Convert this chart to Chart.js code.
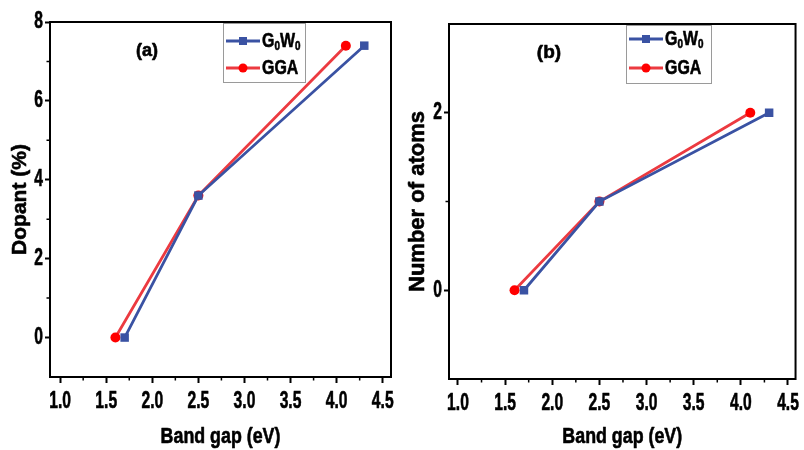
<!DOCTYPE html>
<html><head><meta charset="utf-8">
<script src="https://cdn.jsdelivr.net/npm/chart.js@4"></script>
<style>
html,body{margin:0;padding:0;background:#fff;}
#wrap{position:relative;width:804px;height:450px;overflow:hidden;background:#fff;}
.p{position:absolute;top:0;height:450px;}
</style></head><body>
<div id="wrap">
<div class="p" style="left:0;width:400px"><canvas id="ca" width="400" height="450"></canvas></div>
<div class="p" style="left:400px;width:404px"><canvas id="cb" width="404" height="450"></canvas></div>
</div>
<script>
// ---- data ----
const seriesNames = ['G\u2080W\u2080', 'GGA'];
const gapG0W0 = [1.7, 2.5, 4.3];
const gapGGA = [1.6, 2.5, 4.1];
const dopantG0W0 = [0, 3.6, 7.4];
const dopantGGA = [0, 3.6, 7.4];
const atomsG0W0 = [0, 1, 2];
const atomsGGA = [0, 1, 2];
const xTicks = [1.0, 1.5, 2.0, 2.5, 3.0, 3.5, 4.0, 4.5];
const xMinor = [1.25, 1.75, 2.25, 2.75, 3.25, 3.75, 4.25];
const yTicksA = [0, 2, 4, 6, 8];
const yMinorA = [1, 3, 5, 7];
const yTicksB = [0, 2];
const yMinorB = [1];

const BLUE = '#3a52a3';
const RED_LINE = '#ec3a40';
const RED_PT = '#ff0000';
// family token "Nx<percent>" = horizontally condensed, slightly heavier Liberation Sans
const TICKF = "Nx68, 'Liberation Sans', Arial, sans-serif";
const TITLEF = "Nx81, 'Liberation Sans', Arial, sans-serif";
const LEGF = "Nx76, 'Liberation Sans', Arial, sans-serif";
const WIDE = "Nx100, 'Liberation Sans', Arial, sans-serif";

(function () {
  const P = CanvasRenderingContext2D.prototype;
  const of = P.fillText, om = P.measureText;
  function factor(ctx) { const m = /Nx(\d+)/.exec(ctx.font); return m ? (+m[1]) / 100 : 0; }
  P.fillText = function (t, x, y, mw) {
    const f = factor(this);
    if (!f) return of.apply(this, arguments);
    this.save(); this.translate(x, y); this.scale(f, 1);
    of.call(this, t, 0, 0);
    this.strokeStyle = this.fillStyle; this.lineWidth = 0.6; this.lineJoin = 'round';
    this.strokeText(t, 0, 0);
    this.restore();
  };
  P.measureText = function (t) {
    const m = om.call(this, t); const f = factor(this);
    if (!f || f === 1) return m;
    return {width: m.width * f, actualBoundingBoxAscent: m.actualBoundingBoxAscent,
            actualBoundingBoxDescent: m.actualBoundingBoxDescent,
            actualBoundingBoxLeft: m.actualBoundingBoxLeft * f, actualBoundingBoxRight: m.actualBoundingBoxRight * f};
  };
})();

function pts(xs, ys) { return xs.map((x, i) => ({x: x, y: ys[i]})); }

function drawRichText(ctx, text, x, y, size) {
  let cx = x;
  for (const ch of text) {
    if (ch === '\u2080') {
      ctx.font = 'bold ' + Math.round(size * 0.62) + 'px ' + LEGF;
      ctx.fillText('0', cx, y + size * 0.28);
      cx += ctx.measureText('0').width;
    } else {
      ctx.font = 'bold ' + size + 'px ' + LEGF;
      ctx.fillText(ch, cx, y);
      cx += ctx.measureText(ch).width;
    }
  }
}

const deco = {
  id: 'deco',
  afterDraw(chart, args, o) {
    const ctx = chart.ctx, a = chart.chartArea;
    const xs = chart.scales.x, ys = chart.scales.y;
    ctx.save();
    ctx.strokeStyle = '#000'; ctx.lineWidth = 2;
    ctx.strokeRect(a.left, a.top, a.right - a.left, a.bottom - a.top);
    ctx.lineWidth = 1.5;
    ctx.beginPath();
    o.xMinor.forEach(v => { const p = xs.getPixelForValue(v); ctx.moveTo(p, a.bottom); ctx.lineTo(p, a.bottom + 3.5); });
    o.yMinor.forEach(v => { const p = ys.getPixelForValue(v); ctx.moveTo(a.left, p); ctx.lineTo(a.left - 3.5, p); });
    ctx.stroke();
    ctx.fillStyle = '#000';
    ctx.font = 'bold ' + o.labelSize + 'px ' + WIDE;
    ctx.textAlign = 'center'; ctx.textBaseline = 'middle';
    ctx.fillText(o.label, o.labelX, o.labelY);
    const L = o.legend;
    ctx.strokeStyle = '#9a9a9a'; ctx.lineWidth = 1;
    ctx.strokeRect(L.x + 0.5, L.y + 0.5, L.w, L.h);
    ctx.textAlign = 'left';
    chart.data.datasets.forEach((ds, i) => {
      const yy = L.y + L.rows[i];
      ctx.strokeStyle = ds.borderColor; ctx.lineWidth = 2.8;
      ctx.beginPath(); ctx.moveTo(L.x + 3, yy); ctx.lineTo(L.x + 37, yy); ctx.stroke();
      ctx.fillStyle = ds.pointBackgroundColor;
      const mx = L.x + 20;
      if (ds.pointStyle === 'rect') { ctx.fillRect(mx - 4, yy - 4, 8, 8); }
      else { ctx.beginPath(); ctx.arc(mx, yy, 4.5, 0, Math.PI * 2); ctx.fill(); }
      ctx.fillStyle = '#000'; ctx.textBaseline = 'middle';
      drawRichText(ctx, ds.label, L.x + 39, yy, 21);
    });
    ctx.restore();
  }
};

function makeChart(id, yData1, yData2, yMin, yMax, yTicks, yMinor, yTitle, yTitleSize, geom) {
  return new Chart(document.getElementById(id), {
    type: 'line',
    data: {
      datasets: [
        {label: seriesNames[0], data: pts(gapG0W0, yData1), borderColor: BLUE, backgroundColor: BLUE,
         pointBackgroundColor: BLUE, pointBorderColor: BLUE, pointStyle: 'rect', pointRadius: 6, pointBorderWidth: 0, borderWidth: 2.8, tension: 0},
        {label: seriesNames[1], data: pts(gapGGA, yData2), borderColor: RED_LINE, backgroundColor: RED_PT,
         pointBackgroundColor: RED_PT, pointBorderColor: RED_PT, pointStyle: 'circle', pointRadius: 5, pointBorderWidth: 0, borderWidth: 2.8, tension: 0}
      ]
    },
    options: {
      responsive: false, animation: false, devicePixelRatio: 1,
      layout: {padding: {top: geom.top, right: geom.right, left: 0, bottom: 0}},
      plugins: {
        legend: {display: false}, tooltip: {enabled: false},
        deco: {label: geom.label, labelX: geom.labelX, labelY: geom.labelY, labelSize: geom.labelSize,
               xMinor: xMinor, yMinor: yMinor, legend: geom.legend}
      },
      scales: {
        x: {
          type: 'linear', min: geom.xMin, max: geom.xMax,
          afterBuildTicks: s => { s.ticks = xTicks.map(v => ({value: v})); },
          afterFit: s => { s.height = geom.xH; },
          grid: {drawOnChartArea: false, drawTicks: true, tickLength: 6, tickWidth: 2, tickColor: '#000'},
          border: {display: true, color: '#000', width: 2},
          ticks: {color: '#000', padding: 5, maxRotation: 0, autoSkip: false,
                  font: {family: TICKF, size: 23, weight: 'bold'}, callback: v => v.toFixed(1)},
          title: {display: true, text: 'Band gap (eV)', color: '#000', padding: {top: 0, bottom: 0},
                  font: {family: TITLEF, size: 22, weight: 'bold'}}
        },
        y: {
          type: 'linear', min: yMin, max: yMax,
          afterBuildTicks: s => { s.ticks = yTicks.map(v => ({value: v})); },
          afterFit: s => { s.width = geom.yW; },
          grid: {drawOnChartArea: false, drawTicks: true, tickLength: 5, tickWidth: 2, tickColor: '#000'},
          border: {display: true, color: '#000', width: 2},
          ticks: {color: '#000', padding: 2, autoSkip: false,
                  font: {family: TICKF, size: 23, weight: 'bold'}, callback: v => String(v)},
          title: {display: true, text: yTitle, color: '#000', padding: {top: geom.yTitlePad, bottom: 0},
                  font: {family: WIDE, size: yTitleSize, weight: 'bold'}}
        }
      }
    },
    plugins: [deco]
  });
}

makeChart('ca', dopantG0W0, dopantGGA, -1, 8, yTicksA, yMinorA, 'Dopant (%)', 21, {
  top: 22, right: 9, xH: 73, yW: 50, xMin: 0.89, xMax: 4.59, yTitlePad: 8,
  label: '(a)', labelX: 147, labelY: 51, labelSize: 18,
  legend: {x: 223, y: 23, w: 82, h: 59, rows: [18, 45]}
});
makeChart('cb', atomsG0W0, atomsGGA, -1, 3, yTicksB, yMinorB, 'Number of atoms', 22, {
  top: 24, right: 4, xH: 71, yW: 49, xMin: 0.905, xMax: 4.58, yTitlePad: 5,
  label: '(b)', labelX: 149, labelY: 53, labelSize: 19,
  legend: {x: 226, y: 25, w: 85, h: 58, rows: [14, 43]}
});
</script>
</body></html>
